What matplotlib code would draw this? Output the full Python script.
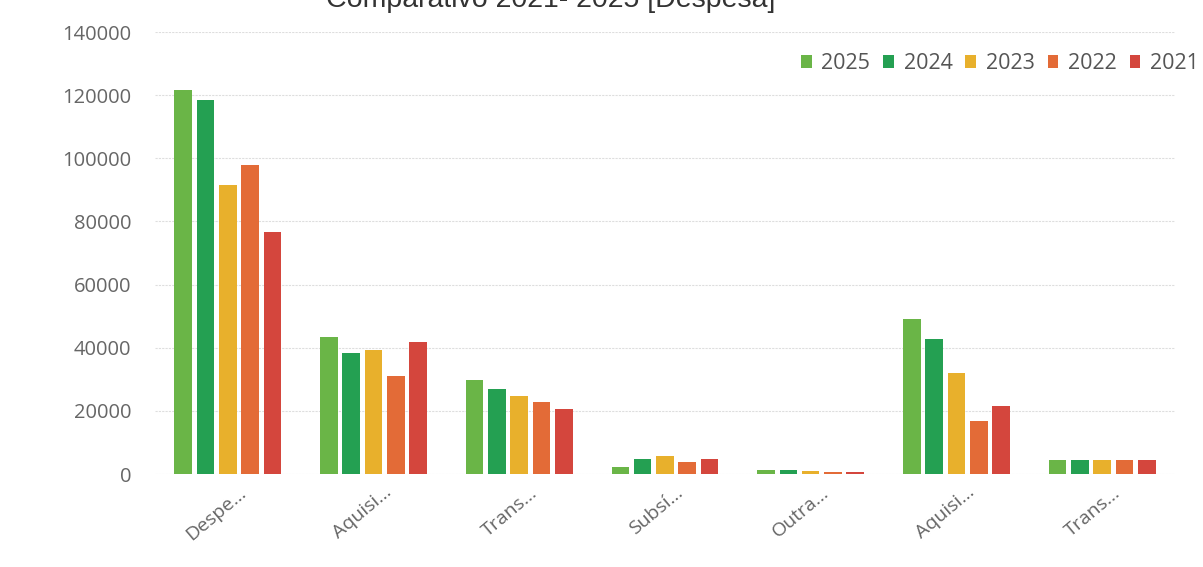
import matplotlib
matplotlib.use("Agg")
import matplotlib.pyplot as plt
import matplotlib.transforms as mtransforms
import numpy as np

plt.rcParams['font.family'] = ['Open Sans', 'DejaVu Sans']

# Data
categories = ["Despe...", "Aquisi...", "Trans...", "Subsí...", "Outra...", "Aquisi...", "Trans..."]
years = ["2025", "2024", "2023", "2022", "2021"]
values = {
    "2025": [121600, 43300, 29800, 2300, 1300, 49100, 4400],
    "2024": [118500, 38200, 26800, 4800, 1300, 42900, 4400],
    "2023": [91500, 39300, 24700, 5800, 1000, 32100, 4400],
    "2022": [98000, 31000, 22900, 3800, 700, 16700, 4400],
    "2021": [76700, 41700, 20500, 4700, 700, 21600, 4300],
}
colors = ["#6ab547", "#24a052", "#e8b02c", "#e36b37", "#d4463d"]
yticks = [0, 20000, 40000, 60000, 80000, 100000, 120000, 140000]

fig = plt.figure(figsize=(12.03, 5.67), dpi=100)
ax = fig.add_axes([0.1288, 0.164, 0.8479, 0.7795])

x = np.arange(len(categories))
slot = 0.153
width = 0.121
for i, (yr, col) in enumerate(zip(years, colors)):
    ax.bar(x + (i - 2) * slot, values[yr], width=width, color=col, label=yr, zorder=3)

ax.set_xlim(-0.5, 6.5)
ax.set_ylim(0, 140000)
ax.set_yticks(yticks)
ax.set_yticklabels([str(v) for v in yticks])
ax.grid(axis='y', color='#dedede', linestyle=(0, (2, 1)), linewidth=0.8, zorder=0)
for s in ax.spines.values():
    s.set_visible(False)
ax.tick_params(axis='y', length=0, pad=17, labelsize=14.5, labelcolor='#666666')
ax.tick_params(axis='x', length=0, pad=6, labelsize=14, labelcolor='#666666')

ax.set_xticks(x)
ax.set_xticklabels(categories, rotation=40, ha='right', va='center', rotation_mode='anchor')
offset = mtransforms.ScaledTranslation(16 / 100, -8 / 100, fig.dpi_scale_trans)
for lab in ax.get_xticklabels():
    lab.set_transform(lab.get_transform() + offset)

leg = ax.legend(loc='upper right', bbox_to_anchor=(1.032, 0.972), ncol=5, frameon=False,
                handlelength=0.5, handleheight=0.5, handletextpad=0.45, columnspacing=0.6,
                fontsize=15.5, borderaxespad=0)
for t in leg.get_texts():
    t.set_color('#555555')

# title sits partly above the top edge, as in the source screenshot
fig.text(551 / 1203, 1 - 7 / 567, "Comparativo 2021- 2025 [Despesa]", ha='center', va='baseline',
         fontsize=20.5, color='#333333', family=['Liberation Sans', 'DejaVu Sans'])

fig.savefig("out.png", dpi=100)
